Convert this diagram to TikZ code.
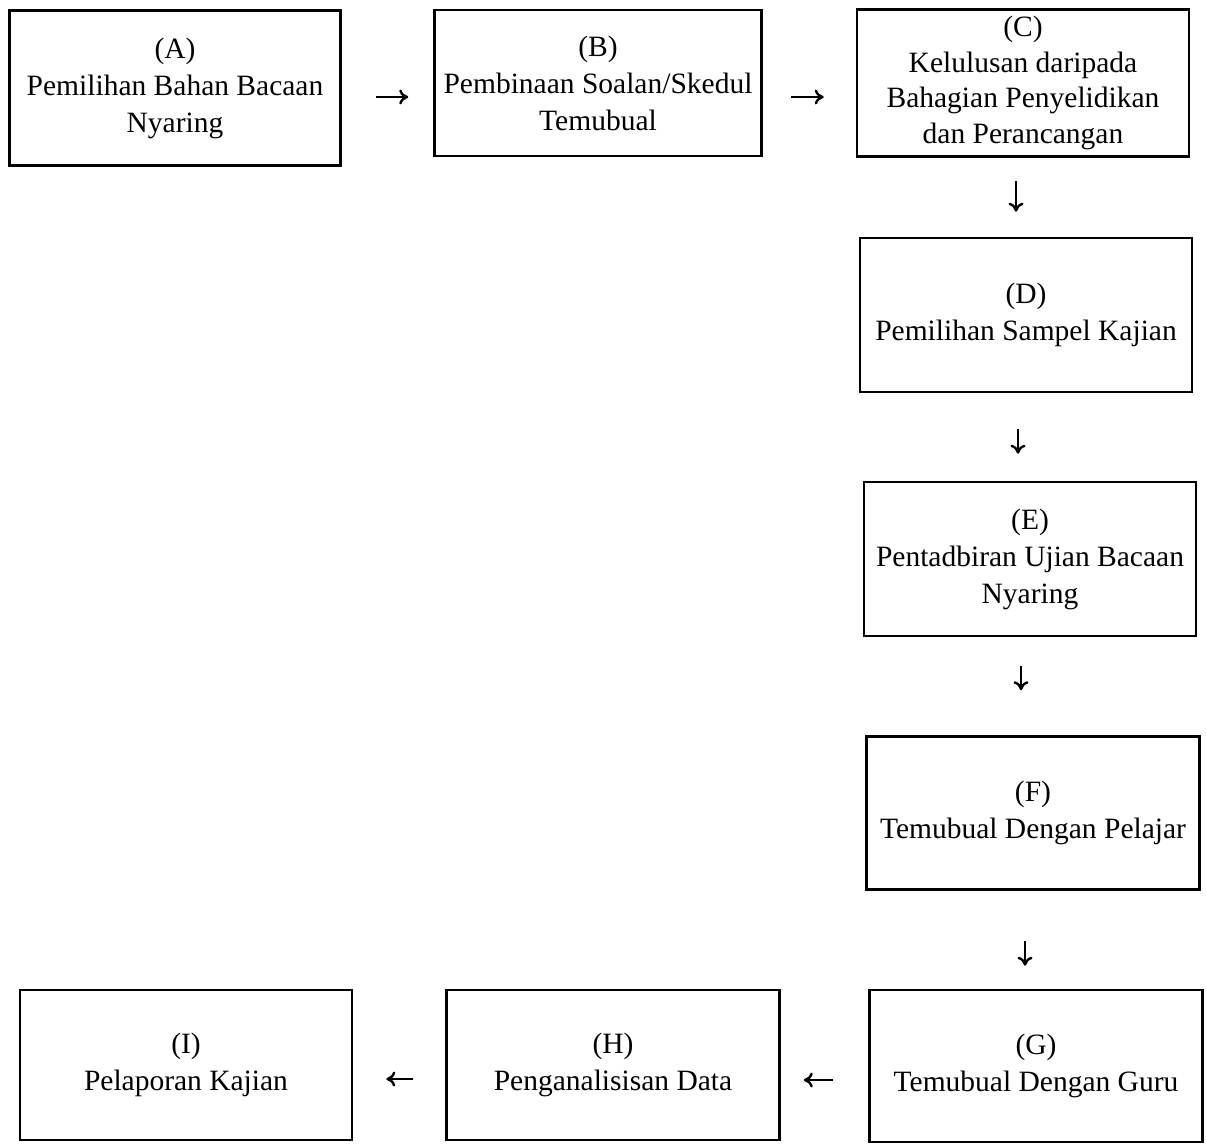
\documentclass[tikz,border=0pt]{standalone}
\usepackage{fontspec}
\setmainfont{Liberation Serif}
\usetikzlibrary{arrows.meta}

\begin{document}
\begin{tikzpicture}[x=1pt,y=-1pt,
  every node/.style={font=\fontsize{29.5}{37}\selectfont},
  box/.style={draw,line width=2.6pt,align=center,inner sep=0pt},
  flow/.style={line width=2.4pt,-{To[length=9pt,width=15pt,line width=2.4pt]}}]
  \useasboundingbox (0,0) rectangle (1206,1143);

  % top row
  \node[box,minimum width=331pt,minimum height=155pt] (A) at (175,88) {(A)\\Pemilihan Bahan Bacaan\\Nyaring};
  \node[box,minimum width=327pt,minimum height=146pt] (B) at (598,83) {(B)\\Pembinaan Soalan/Skedul\\Temubual};
  \node[box,minimum width=332pt,minimum height=147pt,font=\fontsize{29.5}{35.5}\selectfont] (C) at (1023,83) {(C)\\Kelulusan daripada\\Bahagian Penyelidikan\\dan Perancangan};

  % right column
  \node[box,minimum width=332pt,minimum height=154pt] (D) at (1026,315) {(D)\\Pemilihan Sampel Kajian};
  \node[box,minimum width=332pt,minimum height=154pt] (E) at (1030,559) {(E)\\Pentadbiran Ujian Bacaan\\Nyaring};
  \node[box,minimum width=333pt,minimum height=153pt] (F) at (1033,813) {(F)\\Temubual Dengan Pelajar};

  % bottom row
  \node[box,minimum width=333pt,minimum height=152pt] (G) at (1036,1066) {(G)\\Temubual Dengan Guru};
  \node[box,minimum width=333pt,minimum height=150pt] (H) at (613,1065) {(H)\\Penganalisisan Data};
  \node[box,minimum width=332pt,minimum height=150pt] (I) at (186,1065) {(I)\\Pelaporan Kajian};

  % arrows
  \draw[flow,shorten <=34pt,shorten >=25pt] ([yshift=-9pt]A.east) -- ([yshift=-9pt]A.east -| B.west);
  \draw[flow,shorten <=28pt,shorten >=32pt] ([yshift=-14pt]B.east) -- ([yshift=-14pt]B.east -| C.west);
  \draw[flow,shorten <=23pt,shorten >=25pt] ([xshift=-7pt]C.south) -- ([xshift=-7pt]C.south |- D.north);
  \draw[flow,shorten <=36pt,shorten >=27pt] ([xshift=-8pt]D.south) -- ([xshift=-8pt]D.south |- E.north);
  \draw[flow,shorten <=29pt,shorten >=45pt] ([xshift=-9pt]E.south) -- ([xshift=-9pt]E.south |- F.north);
  \draw[flow,shorten <=50pt,shorten >=23pt] ([xshift=-8pt]F.south) -- ([xshift=-8pt]F.south |- G.north);
  \draw[flow,shorten <=35pt,shorten >=23pt] ([yshift=-14pt]G.west) -- ([yshift=-14pt]G.west -| H.east);
  \draw[flow,shorten <=32pt,shorten >=33pt] ([yshift=-14pt]H.west) -- ([yshift=-14pt]H.west -| I.east);

\end{tikzpicture}
\end{document}
